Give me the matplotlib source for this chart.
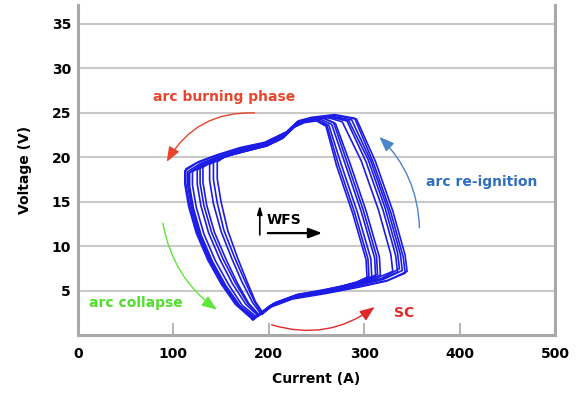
import matplotlib
matplotlib.use("Agg")
import matplotlib.pyplot as plt

# ---------- data: U-I cyclogram, one list of (current A, voltage V) per cycle ----------
cycle_1 = [(183, 1.8), (200, 3.2), (225, 4.2), (260, 4.8), (295, 5.5), (325, 6.2), (345, 7.2),
           (343, 9.0), (330, 14.0), (312, 19.5), (292, 24.3), (270, 24.7), (245, 24.4), (230, 24.0),
           (218, 22.8), (195, 21.6), (170, 21.0), (145, 20.2), (125, 19.4), (112, 18.5), (112, 17.0),
           (116, 14.5), (124, 11.5), (136, 8.5), (150, 5.8), (165, 3.5), (183, 1.8)]
cycle_2 = [(184, 1.9), (201, 3.3), (226, 4.3), (260, 4.9), (291, 5.6), (320, 6.3), (340, 7.3),
           (338, 9.1), (325, 14.1), (307, 19.6), (287, 24.2), (267, 24.6), (244, 24.4), (230, 23.9),
           (218, 22.7), (195, 21.5), (171, 20.9), (147, 20.1), (128, 19.3), (115, 18.4), (115, 16.9),
           (119, 14.4), (127, 11.4), (139, 8.4), (153, 5.7), (168, 3.4), (184, 1.9)]
cycle_3 = [(186, 2.0), (202, 3.3), (227, 4.3), (260, 4.9), (288, 5.5), (315, 6.2), (335, 7.1),
           (333, 9.0), (320, 14.0), (302, 19.5), (282, 24.1), (264, 24.6), (243, 24.3), (229, 23.8),
           (217, 22.6), (195, 21.4), (172, 20.8), (149, 20.0), (130, 19.2), (117, 18.3), (117, 16.8),
           (121, 14.3), (129, 11.3), (141, 8.3), (155, 5.6), (170, 3.3), (186, 2.0)]
cycle_4 = [(187, 2.1), (203, 3.4), (227, 4.4), (259, 5.0), (285, 5.6), (310, 6.3), (330, 7.2),
           (328, 9.1), (315, 14.1), (297, 19.6), (277, 24.0), (261, 24.5), (242, 24.3), (229, 23.7),
           (217, 22.5), (196, 21.4), (174, 20.8), (151, 20.0), (133, 19.2), (120, 18.4), (120, 16.9),
           (124, 14.4), (132, 11.4), (144, 8.4), (158, 5.7), (172, 3.4), (187, 2.1)]
cycle_5 = [(189, 2.2), (205, 3.5), (228, 4.4), (258, 5.0), (280, 5.5), (300, 6.0), (317, 6.8),
           (316, 8.8), (302, 14.0), (285, 19.4), (270, 23.8), (257, 24.4), (240, 24.2), (228, 23.6),
           (216, 22.4), (197, 21.3), (176, 20.7), (155, 20.1), (138, 19.4), (125, 18.6), (125, 17.0),
           (129, 14.5), (137, 11.5), (149, 8.5), (162, 5.8), (176, 3.5), (189, 2.2)]
cycle_6 = [(190, 2.3), (206, 3.6), (229, 4.5), (257, 5.0), (278, 5.5), (297, 6.0), (312, 6.7),
           (311, 8.7), (297, 13.9), (280, 19.3), (266, 23.7), (254, 24.3), (239, 24.1), (227, 23.5),
           (216, 22.3), (198, 21.3), (178, 20.8), (158, 20.2), (142, 19.6), (131, 18.9), (131, 17.2),
           (135, 14.6), (143, 11.6), (155, 8.6), (167, 5.9), (179, 3.6), (190, 2.3)]
cycle_7 = [(192, 2.4), (207, 3.6), (229, 4.5), (256, 5.0), (276, 5.5), (294, 6.0), (308, 6.6),
           (307, 8.6), (293, 13.8), (276, 19.2), (263, 23.6), (252, 24.2), (238, 24.0), (226, 23.4),
           (215, 22.2), (198, 21.3), (180, 20.8), (161, 20.3), (147, 19.8), (138, 19.2), (138, 17.4),
           (142, 14.8), (150, 11.7), (161, 8.7), (172, 6.0), (183, 3.7), (192, 2.4)]
cycle_8 = [(194, 2.5), (208, 3.7), (230, 4.6), (255, 5.0), (274, 5.4), (291, 5.9), (303, 6.5),
           (302, 8.5), (288, 13.7), (271, 19.1), (260, 23.5), (250, 24.1), (237, 23.9), (225, 23.3),
           (214, 22.1), (198, 21.3), (182, 20.9), (165, 20.5), (153, 20.0), (146, 19.5), (146, 17.6),
           (150, 15.0), (157, 11.8), (167, 8.8), (177, 6.1), (186, 3.8), (194, 2.5)]
cycle_9 = [(184, 1.8), (200, 3.1), (225, 4.1), (259, 4.7), (293, 5.4), (323, 6.1), (343, 7.0),
           (341, 8.8), (328, 13.8), (310, 19.3), (290, 24.4), (269, 24.8), (245, 24.5), (231, 24.1),
           (219, 22.9), (196, 21.7), (170, 21.1), (146, 20.3), (126, 19.5), (113, 18.7), (113, 17.1),
           (117, 14.6), (125, 11.6), (137, 8.6), (151, 5.9), (166, 3.6), (184, 1.8)]
cycle_10 = [(185, 2.0), (202, 3.4), (226, 4.4), (261, 5.0), (290, 5.7), (318, 6.4), (337, 7.5),
            (335, 9.3), (322, 14.3), (304, 19.8), (284, 24.1), (265, 24.5), (244, 24.2), (230, 23.7),
            (218, 22.5), (195, 21.4), (171, 20.8), (148, 20.0), (129, 19.2), (116, 18.2), (116, 16.7),
            (120, 14.2), (128, 11.2), (140, 8.2), (154, 5.5), (169, 3.3), (185, 2.0)]
cycle_11 = [(189, 2.3), (205, 3.6), (229, 4.5), (258, 5.1), (279, 5.6), (299, 6.1), (314, 6.9),
            (313, 8.9), (299, 14.1), (282, 19.5), (268, 23.9), (256, 24.5), (240, 24.3), (228, 23.7),
            (216, 22.5), (197, 21.4), (177, 20.8), (156, 20.2), (140, 19.5), (128, 18.8), (128, 17.1),
            (132, 14.6), (140, 11.6), (152, 8.6), (165, 5.9), (178, 3.6), (189, 2.3)]
cycle_12 = [(193, 2.4), (207, 3.7), (230, 4.6), (256, 5.1), (275, 5.5), (292, 6.0), (305, 6.6),
            (304, 8.6), (290, 13.8), (273, 19.2), (261, 23.6), (251, 24.2), (237, 24.0), (225, 23.4),
            (214, 22.2), (198, 21.4), (181, 20.9), (163, 20.4), (150, 19.9), (142, 19.4), (142, 17.5),
            (146, 14.9), (153, 11.8), (164, 8.8), (175, 6.1), (185, 3.8), (193, 2.4)]

x_ticks = [0, 100, 200, 300, 400, 500]
y_ticks = [5, 10, 15, 20, 25, 30, 35]

LOOP_BLUE = "#1c1ce6"
GRID = "#c9c9c9"
SPINE = "#a9a9a9"

fig = plt.figure(figsize=(5.76, 3.94), dpi=100)
ax = fig.add_axes([0.1354, 0.1485, 0.828, 0.8385])

cycles = [cycle_1, cycle_2, cycle_3, cycle_4, cycle_5, cycle_6,
          cycle_7, cycle_8, cycle_9, cycle_10, cycle_11, cycle_12]
for cyc in cycles:
    i_vals = [p[0] for p in cyc]
    u_vals = [p[1] for p in cyc]
    ax.plot(i_vals, u_vals, color=LOOP_BLUE, lw=1.2, solid_joinstyle="round")

ax.set_xlim(0, 500)
ax.set_ylim(0, 37.1)
ax.set_xticks(x_ticks)
ax.set_yticks(y_ticks)
ax.yaxis.grid(True, color=GRID, lw=1.5)
ax.set_axisbelow(True)

for side in ["left", "bottom", "right"]:
    ax.spines[side].set_color(SPINE)
    ax.spines[side].set_linewidth(2.2)
ax.spines["top"].set_visible(False)

ax.tick_params(axis="x", direction="in", length=9, width=1.2, color=SPINE, pad=8)
ax.tick_params(axis="y", length=0, pad=5)
for lab in ax.get_xticklabels() + ax.get_yticklabels():
    lab.set_fontsize(10)
    lab.set_fontweight("bold")

ax.set_xlabel("Current (A)", fontsize=10, fontweight="bold", labelpad=8)
ax.set_ylabel("Voltage (V)", fontsize=10, fontweight="bold", labelpad=14)

# ---------- phase annotations ----------
def curved_arrow(start, end, color, rad, lw=1.0):
    ax.annotate("", xy=end, xytext=start,
                arrowprops=dict(arrowstyle="-|>,head_length=0.9,head_width=0.35",
                                connectionstyle=f"arc3,rad={rad}", color=color, lw=lw,
                                shrinkA=0, shrinkB=0))

ax.text(153, 26.8, "arc burning phase", color="#e8452c", fontsize=10, fontweight="bold",
        ha="center", va="center")
curved_arrow((185, 25.0), (93, 19.5), "#e8452c", 0.3)

ax.text(423, 17.2, "arc re-ignition", color="#2e6fc0", fontsize=10, fontweight="bold",
        ha="center", va="center")
curved_arrow((358, 12.1), (316, 22.3), "#4a85c8", 0.2)

ax.text(61, 3.65, "arc collapse", color="#4fe02a", fontsize=10, fontweight="bold",
        ha="center", va="center")
curved_arrow((89, 12.6), (145.5, 2.9), "#5ee63a", 0.2)

ax.text(342, 2.5, "SC", color="#e02a2a", fontsize=10, fontweight="bold",
        ha="center", va="center")
curved_arrow((203, 1.2), (311, 3.2), "#e02a2a", 0.25)

# WFS marker
ax.text(198, 13.0, "WFS", color="black", fontsize=10, fontweight="bold",
        ha="left", va="center")
ax.annotate("", xy=(190.6, 14.6), xytext=(190.6, 11.3),
            arrowprops=dict(arrowstyle="-|>,head_length=0.5,head_width=0.15",
                            color="black", lw=1.2, shrinkA=0, shrinkB=0))
ax.annotate("", xy=(256, 11.5), xytext=(199, 11.5),
            arrowprops=dict(arrowstyle="-|>,head_length=0.8,head_width=0.3",
                            color="black", lw=1.6, shrinkA=0, shrinkB=0))

fig.savefig("out.png", dpi=100)
